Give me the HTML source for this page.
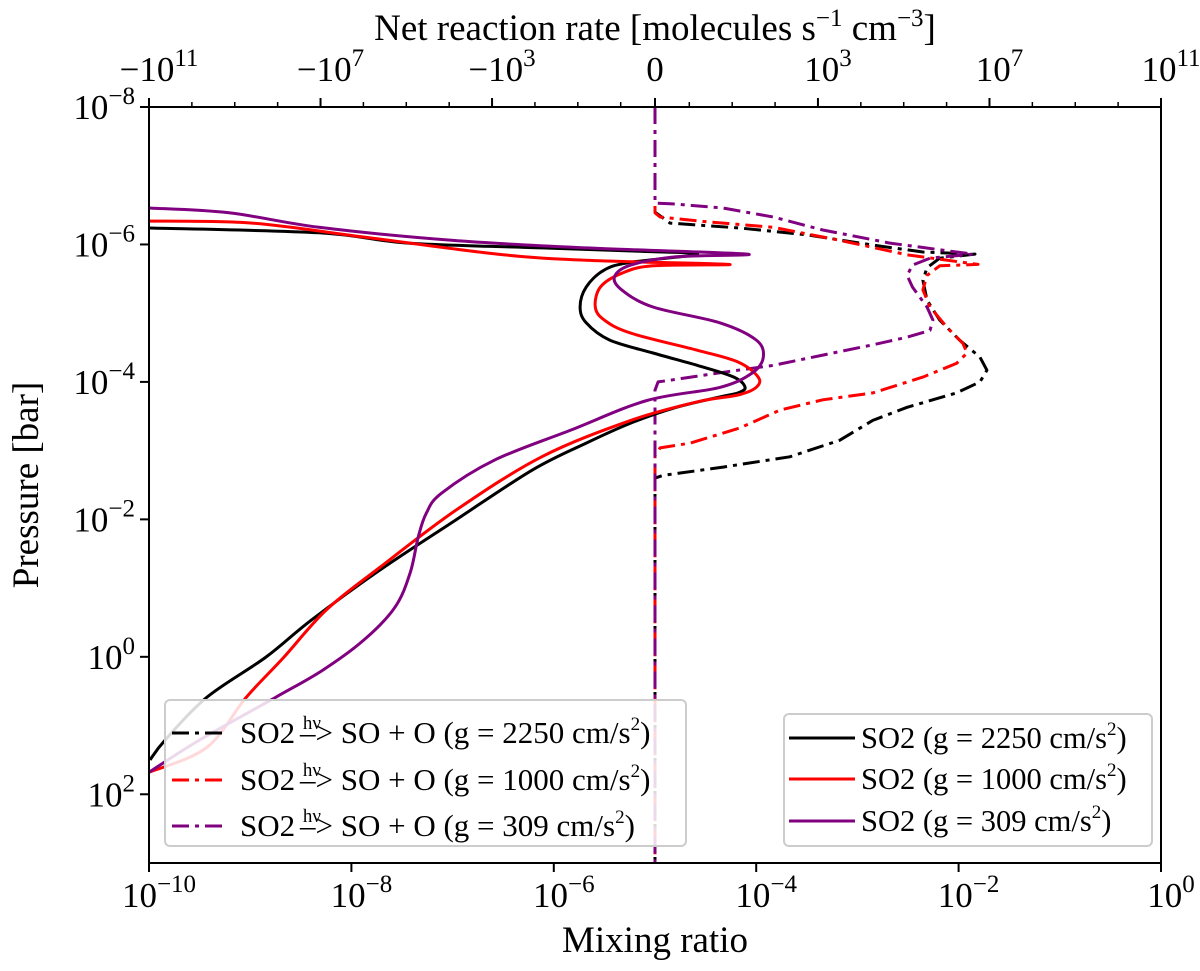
<!DOCTYPE html>
<html><head><meta charset="utf-8"><style>
html,body{margin:0;padding:0;background:#fff;}
svg{display:block;font-family:"Liberation Serif","DejaVu Serif",serif;}
</style></head><body>
<svg id="chart" width="1200" height="971" viewBox="0 0 1200 971">
<defs><clipPath id="plotclip"><rect x="149" y="107" width="1012" height="756"/></clipPath></defs>
<rect x="0" y="0" width="1200" height="971" fill="#fff"/>
<g id="series" clip-path="url(#plotclip)"></g>
<rect x="149" y="107" width="1012" height="756" fill="none" stroke="#000" stroke-width="2"/>
<g id="ticks"></g>
<text x="655" y="40" text-anchor="middle" font-size="37">Net reaction rate [molecules s<tspan dy="-14" font-size="25">−1</tspan><tspan dy="14"> cm</tspan><tspan dy="-14" font-size="25">−3</tspan><tspan dy="14">]</tspan></text>
<text x="655" y="952" text-anchor="middle" font-size="37">Mixing ratio</text>
<text transform="translate(38,485) rotate(-90)" text-anchor="middle" font-size="37">Pressure [bar]</text>

<g>
<rect x="165" y="700" width="521" height="146" rx="5" fill="#fff" fill-opacity="0.85" stroke="#ccc" stroke-width="2"/>
<g>
<line x1="172" y1="733" x2="228" y2="733" stroke="#000" stroke-width="3" stroke-dasharray="17 6 4 6"/>
<text x="240" y="743" font-size="31">SO2 <tspan font-size="19" dy="-14">hν</tspan><tspan dx="-21" dy="14">–&gt; SO + O (g = 2250 cm/s</tspan><tspan font-size="19" dy="-13">2</tspan><tspan dy="13">)</tspan></text>
</g>
<g>
<line x1="172" y1="780" x2="228" y2="780" stroke="#f00" stroke-width="3" stroke-dasharray="17 6 4 6"/>
<text x="240" y="790" font-size="31">SO2 <tspan font-size="19" dy="-14">hν</tspan><tspan dx="-21" dy="14">–&gt; SO + O (g = 1000 cm/s</tspan><tspan font-size="19" dy="-13">2</tspan><tspan dy="13">)</tspan></text>
</g>
<g>
<line x1="172" y1="826" x2="228" y2="826" stroke="#800080" stroke-width="3" stroke-dasharray="17 6 4 6"/>
<text x="240" y="836" font-size="31">SO2 <tspan font-size="19" dy="-14">hν</tspan><tspan dx="-21" dy="14">–&gt; SO + O (g = 309 cm/s</tspan><tspan font-size="19" dy="-13">2</tspan><tspan dy="13">)</tspan></text>
</g>
</g>

<g>
<rect x="784" y="714" width="368" height="132" rx="5" fill="#fff" fill-opacity="0.85" stroke="#ccc" stroke-width="2"/>
<g>
<line x1="789" y1="738" x2="855" y2="738" stroke="#000" stroke-width="3"/>
<text x="861" y="748" font-size="30.5">SO2 (g = 2250 cm/s<tspan font-size="19" dy="-13">2</tspan><tspan dy="13">)</tspan></text>
</g>
<g>
<line x1="789" y1="779" x2="855" y2="779" stroke="#f00" stroke-width="3"/>
<text x="861" y="789" font-size="30.5">SO2 (g = 1000 cm/s<tspan font-size="19" dy="-13">2</tspan><tspan dy="13">)</tspan></text>
</g>
<g>
<line x1="789" y1="821" x2="855" y2="821" stroke="#800080" stroke-width="3"/>
<text x="861" y="831" font-size="30.5">SO2 (g = 309 cm/s<tspan font-size="19" dy="-13">2</tspan><tspan dy="13">)</tspan></text>
</g>
</g>
</svg>
<script>
// ---- tick data ----
const bottomTickExps = [-10, -8, -6, -4, -2, 0];
const leftTickExps = [-8, -6, -4, -2, 0, 2];
const topTickValues = [-1e11, -1e7, -1e3, 0, 1e3, 1e7, 1e11];
const topTickLabels = [["−10","11"],["−10","7"],["−10","3"],["0",""],["10","3"],["10","7"],["10","11"]];

// ---- SO2 mixing-ratio profiles (log10 mixing ratio, log10 pressure in bar) ----
const so2_2250_logX = [-10.0,-8.32,-7.44,-6.12,-5.15,-4.58,-5.24,-5.50,-5.68,-5.74,-5.68,-5.45,-5.02,-4.58,-4.22,-4.11,-4.18,-4.36,-4.79,-5.24,-5.68,-6.21,-6.97,-7.72,-8.40,-8.85,-9.43,-9.84,-9.99];
const so2_2250_logP = [-6.24,-6.17,-6.02,-5.95,-5.90,-5.86,-5.74,-5.63,-5.38,-5.09,-4.86,-4.61,-4.42,-4.24,-4.07,-3.92,-3.84,-3.78,-3.63,-3.40,-3.11,-2.72,-1.99,-1.26,-0.53,0.01,0.59,1.21,1.50];
const so2_1000_logX = [-10.0,-8.98,-7.89,-6.56,-5.68,-4.27,-5.02,-5.33,-5.54,-5.59,-5.50,-5.24,-4.58,-4.18,-3.98,-4.00,-4.18,-4.58,-5.24,-6.12,-6.97,-7.72,-8.25,-8.67,-9.04,-9.43,-10.0];
const so2_1000_logP = [-6.34,-6.31,-6.11,-5.86,-5.77,-5.71,-5.69,-5.58,-5.38,-5.09,-4.90,-4.71,-4.46,-4.29,-4.07,-3.92,-3.81,-3.71,-3.44,-2.91,-2.13,-1.30,-0.68,0.01,0.59,1.32,1.68];
const so2_309_logX = [-10.0,-9.21,-8.32,-7.01,-5.68,-4.09,-4.79,-5.24,-5.40,-5.33,-5.02,-4.36,-4.00,-3.93,-4.04,-4.36,-5.08,-5.83,-6.59,-7.11,-7.26,-7.34,-7.42,-7.57,-7.88,-8.29,-8.75,-9.50,-10.0];
const so2_309_logP = [-6.53,-6.46,-6.25,-6.06,-5.95,-5.86,-5.82,-5.70,-5.53,-5.34,-5.09,-4.86,-4.61,-4.36,-4.13,-3.92,-3.73,-3.30,-2.86,-2.38,-2.09,-1.74,-1.22,-0.72,-0.24,0.20,0.59,1.21,1.68];

// ---- Net reaction rates SO2 -> SO + O (molecules s^-1 cm^-3, log10 pressure) ----
const rate_2250 = [0,0,0.44,15,550,1.9e4,2.8e5,4.6e6,6.9e5,3.5e5,2.8e5,3.5e5,6.9e5,2.0e6,6.0e6,8.7e6,6.0e6,1.7e6,1.2e5,1.9e4,3.2e3,220,6.1,0.23,0,0];
const rate_2250_logP = [-8,-6.47,-6.31,-6.24,-6.14,-5.99,-5.89,-5.86,-5.80,-5.66,-5.48,-5.19,-4.90,-4.61,-4.36,-4.17,-4.00,-3.84,-3.63,-3.44,-3.15,-2.91,-2.76,-2.64,-2.60,3];
const rate_1000 = [0,0,0.15,2.6,90,3.2e3,1.2e5,5.4e6,6.9e5,3.5e5,2.8e5,4.1e5,1.0e6,2.4e6,3.0e6,1.7e6,2.8e5,1.9e4,1.3e3,130,15,1.05,0.15,0,0];
const rate_1000_logP = [-8,-6.46,-6.40,-6.33,-6.25,-6.06,-5.85,-5.71,-5.69,-5.55,-5.34,-5.09,-4.80,-4.56,-4.42,-4.27,-4.07,-3.84,-3.74,-3.59,-3.33,-3.11,-3.04,-2.93,3];
const rate_309 = [0,0,0.52,6.1,90,1.3e3,4.8e4,1.7e6,4.1e6,4.1e5,1.6e5,1.2e5,1.6e5,3.5e5,4.8e5,4.1e5,1.2e5,1.9e4,1.3e3,90,6.1,0.52,0.09,0,0];
const rate_309_logP = [-8,-6.60,-6.59,-6.53,-6.40,-6.21,-6.02,-5.89,-5.86,-5.80,-5.70,-5.55,-5.38,-5.09,-4.90,-4.75,-4.65,-4.54,-4.39,-4.24,-4.14,-4.03,-4.00,-3.88,3];

// ---- axis functions ----
const X0 = 149, X1 = 1161, Y0 = 107, Y1 = 863;
function xMix(lx){ return X0 + (lx + 10) / 10 * (X1 - X0); }
function yP(lp){ return Y0 + (lp + 8) / 11 * (Y1 - Y0); }
const XC = (X0 + X1) / 2, DEC = (XC - X0) / 11.8, LIN = 0.8 * DEC;
function xRate(v){
  const a = Math.abs(v), s = v < 0 ? -1 : 1;
  if (a <= 1) return XC + s * a * LIN;
  return XC + s * (LIN + Math.log10(a) * DEC);
}

const NS = "http://www.w3.org/2000/svg";
const series = document.getElementById('series');
const ticks = document.getElementById('ticks');

function mkPath(xs, ys, color, dashed, smooth, name){
  let d = 'M' + xs[0].toFixed(1) + ',' + ys[0].toFixed(1);
  const n = xs.length, t = 0.5 / 3;
  for (let i = 0; i < n - 1; i++) {
    if (!smooth) { d += 'L' + xs[i + 1].toFixed(1) + ',' + ys[i + 1].toFixed(1); continue; }
    const i0 = Math.max(i - 1, 0), i3 = Math.min(i + 2, n - 1);
    const c1x = xs[i] + (xs[i + 1] - xs[i0]) * t, c1y = ys[i] + (ys[i + 1] - ys[i0]) * t;
    const c2x = xs[i + 1] - (xs[i3] - xs[i]) * t, c2y = ys[i + 1] - (ys[i3] - ys[i]) * t;
    d += 'C' + c1x.toFixed(1) + ',' + c1y.toFixed(1) + ' ' + c2x.toFixed(1) + ',' + c2y.toFixed(1) + ' ' + xs[i + 1].toFixed(1) + ',' + ys[i + 1].toFixed(1);
  }
  const p = document.createElementNS(NS, 'path');
  p.setAttribute('d', d);
  p.setAttribute('fill', 'none');
  p.setAttribute('stroke', color);
  p.setAttribute('stroke-width', '3');
  p.setAttribute('stroke-linejoin', 'round');
  if (dashed) p.setAttribute('stroke-dasharray', '17 6 4 6');
  
  
  series.appendChild(p);
}

mkPath(rate_2250.map(xRate), rate_2250_logP.map(yP), '#000', true, false, 'rate-line-g2250');
mkPath(rate_1000.map(xRate), rate_1000_logP.map(yP), '#f00', true, false, 'rate-line-g1000');
mkPath(rate_309.map(xRate), rate_309_logP.map(yP), '#800080', true, false, 'rate-line-g309');
mkPath(so2_2250_logX.map(xMix), so2_2250_logP.map(yP), '#000', false, true, 'so2-line-g2250');
mkPath(so2_1000_logX.map(xMix), so2_1000_logP.map(yP), '#f00', false, true, 'so2-line-g1000');
mkPath(so2_309_logX.map(xMix), so2_309_logP.map(yP), '#800080', false, true, 'so2-line-g309');

function line(x1,y1,x2,y2,w,name){
  const l = document.createElementNS(NS, 'line');
  l.setAttribute('x1',x1); l.setAttribute('y1',y1); l.setAttribute('x2',x2); l.setAttribute('y2',y2);
  l.setAttribute('stroke','#000'); l.setAttribute('stroke-width',w);
  
  
  ticks.appendChild(l);
}
function powLabel(x, y, base, exp, anchor, name){
  const t = document.createElementNS(NS, 'text');
  t.setAttribute('x', x); t.setAttribute('y', y);
  t.setAttribute('font-size', '35');
  t.setAttribute('text-anchor', anchor);
  
  
  const b = document.createElementNS(NS, 'tspan'); b.textContent = base; t.appendChild(b);
  if (exp !== '') {
    const e = document.createElementNS(NS, 'tspan');
    e.setAttribute('font-size', '25'); e.setAttribute('dy', '-15');
    e.textContent = exp; t.appendChild(e);
  }
  ticks.appendChild(t);
}

bottomTickExps.forEach(function(e){
  const x = xMix(e);
  line(x, Y1, x, Y1 + 9, 2, 'x-tick');
  powLabel(x + 10, Y1 + 44, '10', e < 0 ? '−' + (-e) : String(e), 'middle', 'x-tick-label');
});
leftTickExps.forEach(function(e){
  const y = yP(e);
  line(X0 - 9, y, X0, y, 2, 'y-tick');
  powLabel(X0 - 14, y + 12, '10', e < 0 ? '−' + (-e) : String(e), 'end', 'y-tick-label');
});
topTickValues.forEach(function(v, i){
  const x = xRate(v);
  line(x, Y0 - 9, x, Y0, 2, 'top-x-tick');
  const lab = topTickLabels[i];
  powLabel(x + (lab[1] ? 10 : 0), Y0 - 26, lab[0], lab[1], 'middle', 'top-x-tick-label');
});
for (let k = 0; k <= 11; k++) {
  if (k % 4 === 3) continue;
  [1, -1].forEach(function(s){
    const x = xRate(s * Math.pow(10, k));
    line(x, Y0 - 5, x, Y0, 1.5, 'top-x-minor-tick');
  });
}
</script>
</body></html>
